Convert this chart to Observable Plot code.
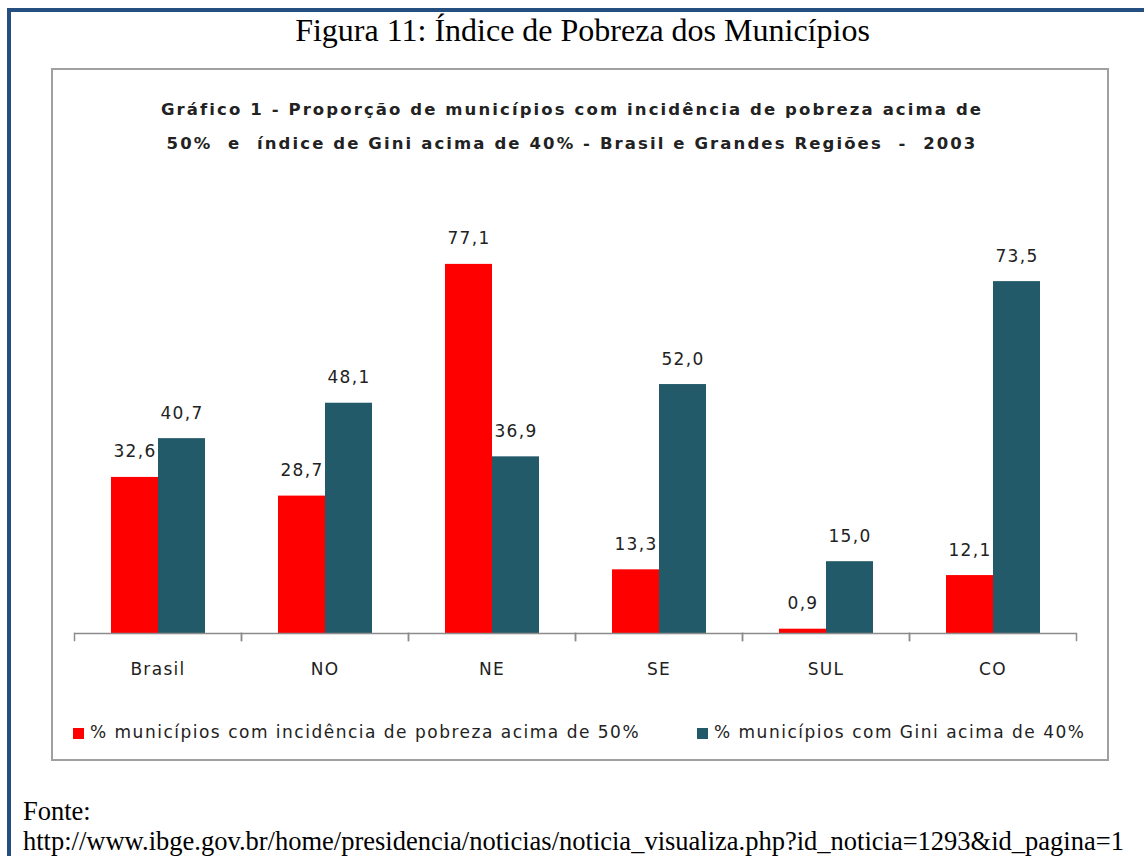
<!DOCTYPE html>
<html><head><meta charset="utf-8">
<script src="https://cdn.jsdelivr.net/npm/d3@7"></script>
<script src="https://cdn.jsdelivr.net/npm/@observablehq/plot@0.6"></script>
<style>
body{margin:0;background:#fff;width:1144px;height:856px;overflow:hidden;position:relative;}
#frame{position:absolute;left:7px;top:8px;width:1200px;height:900px;border-left:4px solid #244f80;border-top:4px solid #244f80;}
#fig{position:absolute;left:0;width:1165px;top:12px;text-align:center;font-family:"Liberation Serif",serif;font-size:32px;line-height:36px;color:#000;}
#box{position:absolute;left:51px;top:68px;width:1054px;height:689px;border:2px solid #a0a0a0;}
#ctitle{position:absolute;left:0;width:1038px;top:23px;text-align:center;font-family:"DejaVu Sans";font-weight:bold;font-size:16.5px;letter-spacing:2.1px;line-height:34px;color:#222;}
#chart{position:absolute;left:0;top:130px;}
#chart svg text{letter-spacing:1.3px;}
.leg{position:absolute;top:652px;font-family:"DejaVu Sans";font-size:17px;letter-spacing:1.5px;color:#222;white-space:nowrap;line-height:20px;}
.sw{display:inline-block;width:11px;height:11px;margin-right:6px;vertical-align:-1px;}
#fonte{position:absolute;left:23px;top:796px;font-family:"Liberation Serif",serif;font-size:26.5px;line-height:30px;color:#000;white-space:nowrap;}
</style></head>
<body>
<div id="frame"></div>
<div id="fig">Figura 11: Índice de Pobreza dos Municípios</div>
<div id="box">
  <div id="ctitle"></div>
  <div id="chart"></div>
  <div id="legend"></div>
</div>
<div id="fonte">Fonte:<br>http://www.ibge.gov.br/home/presidencia/noticias/noticia_visualiza.php?id_noticia=1293&amp;id_pagina=1</div>
<script>
const regions = ["Brasil", "NO", "NE", "SE", "SUL", "CO"];
const pobreza = [32.6, 28.7, 77.1, 13.3, 0.9, 12.1];
const gini = [40.7, 48.1, 36.9, 52.0, 15.0, 73.5];
const seriesKeys = ["pobreza", "gini"];
const seriesNames = ["% municípios com incidência de pobreza acima de 50%", "% municípios com Gini acima de 40%"];
const seriesColors = ["#ff0000", "#235a69"];
const titleLines = ["Gráfico 1 - Proporção de municípios com incidência de pobreza acima de", "50%  e  índice de Gini acima de 40% - Brasil e Grandes Regiões  -  2003"];

document.getElementById("ctitle").innerHTML = titleLines.map(t => t.replace(/  /g, "&nbsp; ")).join("<br>");

const data = regions.flatMap((r, i) => [
  {region: r, serie: "pobreza", value: pobreza[i]},
  {region: r, serie: "gini", value: gini[i]}
]);
const fmt = v => v.toFixed(1).replace(".", ",");

const plot = Plot.plot({
  width: 1054, height: 500,
  marginLeft: 19, marginRight: 30, marginTop: 50, marginBottom: 67,
  style: {fontFamily: "DejaVu Sans", fontSize: "17px", color: "#222", background: "transparent", overflow: "visible"},
  fx: {domain: regions, padding: 0, label: null, axis: "bottom", tickSize: 0, tickPadding: 29},
  x: {domain: seriesKeys, paddingInner: 0, paddingOuter: 0.745, axis: null},
  y: {domain: [0, 80], axis: null},
  color: {domain: seriesKeys, range: seriesColors},
  marks: [
    Plot.barY(data, {fx: "region", x: "serie", y: "value", fill: "serie"}),
    Plot.ruleY([0], {stroke: "#8c8c8c", strokeWidth: 1.5}),
    Plot.frame({anchor: "left", stroke: "#8c8c8c", strokeWidth: 1.5, insetTop: 383, insetBottom: -7}),
    Plot.frame({anchor: "right", stroke: "#8c8c8c", strokeWidth: 1.5, insetTop: 383, insetBottom: -7}),
    Plot.text(data, {fx: "region", x: "serie", y: "value", text: d => fmt(d.value), lineAnchor: "bottom", dy: -20, fill: "#222", fontSize: 17})
  ]
});
document.getElementById("chart").appendChild(plot);

const legendLefts = [20, 644];
const leg = document.getElementById("legend");
seriesNames.forEach((name, i) => {
  const d = document.createElement("div");
  d.className = "leg";
  d.style.left = legendLefts[i] + "px";
  d.innerHTML = `<span class="sw" style="background:${seriesColors[i]}"></span>${name}`;
  leg.appendChild(d);
});
</script>
</body></html>
